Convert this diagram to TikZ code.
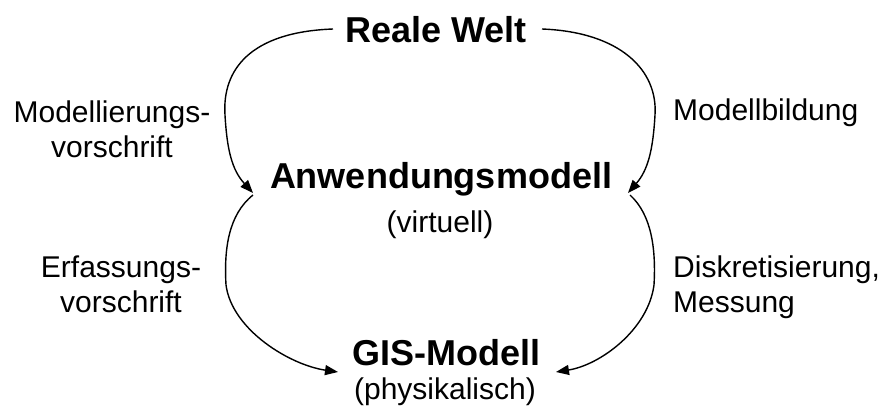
\documentclass[tikz,border=0pt]{standalone}
\usepackage{fontspec}
\setmainfont{Liberation Sans}
\usetikzlibrary{arrows.meta}
\begin{document}
\begin{tikzpicture}[x=1pt,y=-1pt,
  title/.style={font=\fontsize{36}{40}\selectfont\bfseries,anchor=base,inner sep=0pt},
  sub/.style={font=\fontsize{30}{35}\selectfont,anchor=base,inner sep=0pt},
  lbl/.style={font=\fontsize{30}{35}\selectfont,inner sep=0pt,align=center,anchor=base},
  rlbl/.style={font=\fontsize{30}{35}\selectfont,inner sep=0pt,align=left,anchor=base west},
  flow/.style={line width=1.4pt,-{Triangle[length=13pt,width=10pt]}}]
\useasboundingbox (0,0) rectangle (886,410);

% model levels
\node[title] (rw) at (436,42) {Reale Welt};
\node[title] (am) at (441,188) {Anwendungsmodell};
\node[sub]   (amv) at (440,232) {(virtuell)};
\node[title] (gis) at (446,365) {GIS-Modell};
\node[sub]   (gisp) at (445,399) {(physikalisch)};

% transition labels (base = baseline of the last line)
\node[lbl] (l1) at (112,157) {Modellierungs-\\vorschrift};
\node[lbl] (l2) at (121,312) {Erfassungs-\\vorschrift};
\node[rlbl] (r1) at (673,120) {Modellbildung};
\node[rlbl] (r2) at (673,312) {Diskretisierung,\\Messung};

% connector ends
\coordinate (a1) at (333,29);
\coordinate (a2) at (253,193);
\coordinate (b1) at (542,29);
\coordinate (b2) at (628,193);
\coordinate (c1) at (253,195);
\coordinate (c2) at (338,372);
\coordinate (d1) at (630,195);
\coordinate (d2) at (556,372);

\draw[flow] (a1) .. controls (250,32) and (222,70) .. (225,115)
            .. controls (227,150) and (232,170) .. (a2);
\draw[flow] (b1) .. controls (620,32) and (658,70) .. (655,115)
            .. controls (653,150) and (648,170) .. (b2);
\draw[flow] (c1) .. controls (228,215) and (224,250) .. (226,285)
            .. controls (232,330) and (290,365) .. (c2);
\draw[flow] (d1) .. controls (652,215) and (656,250) .. (654,285)
            .. controls (648,330) and (600,365) .. (d2);
\end{tikzpicture}
\end{document}
